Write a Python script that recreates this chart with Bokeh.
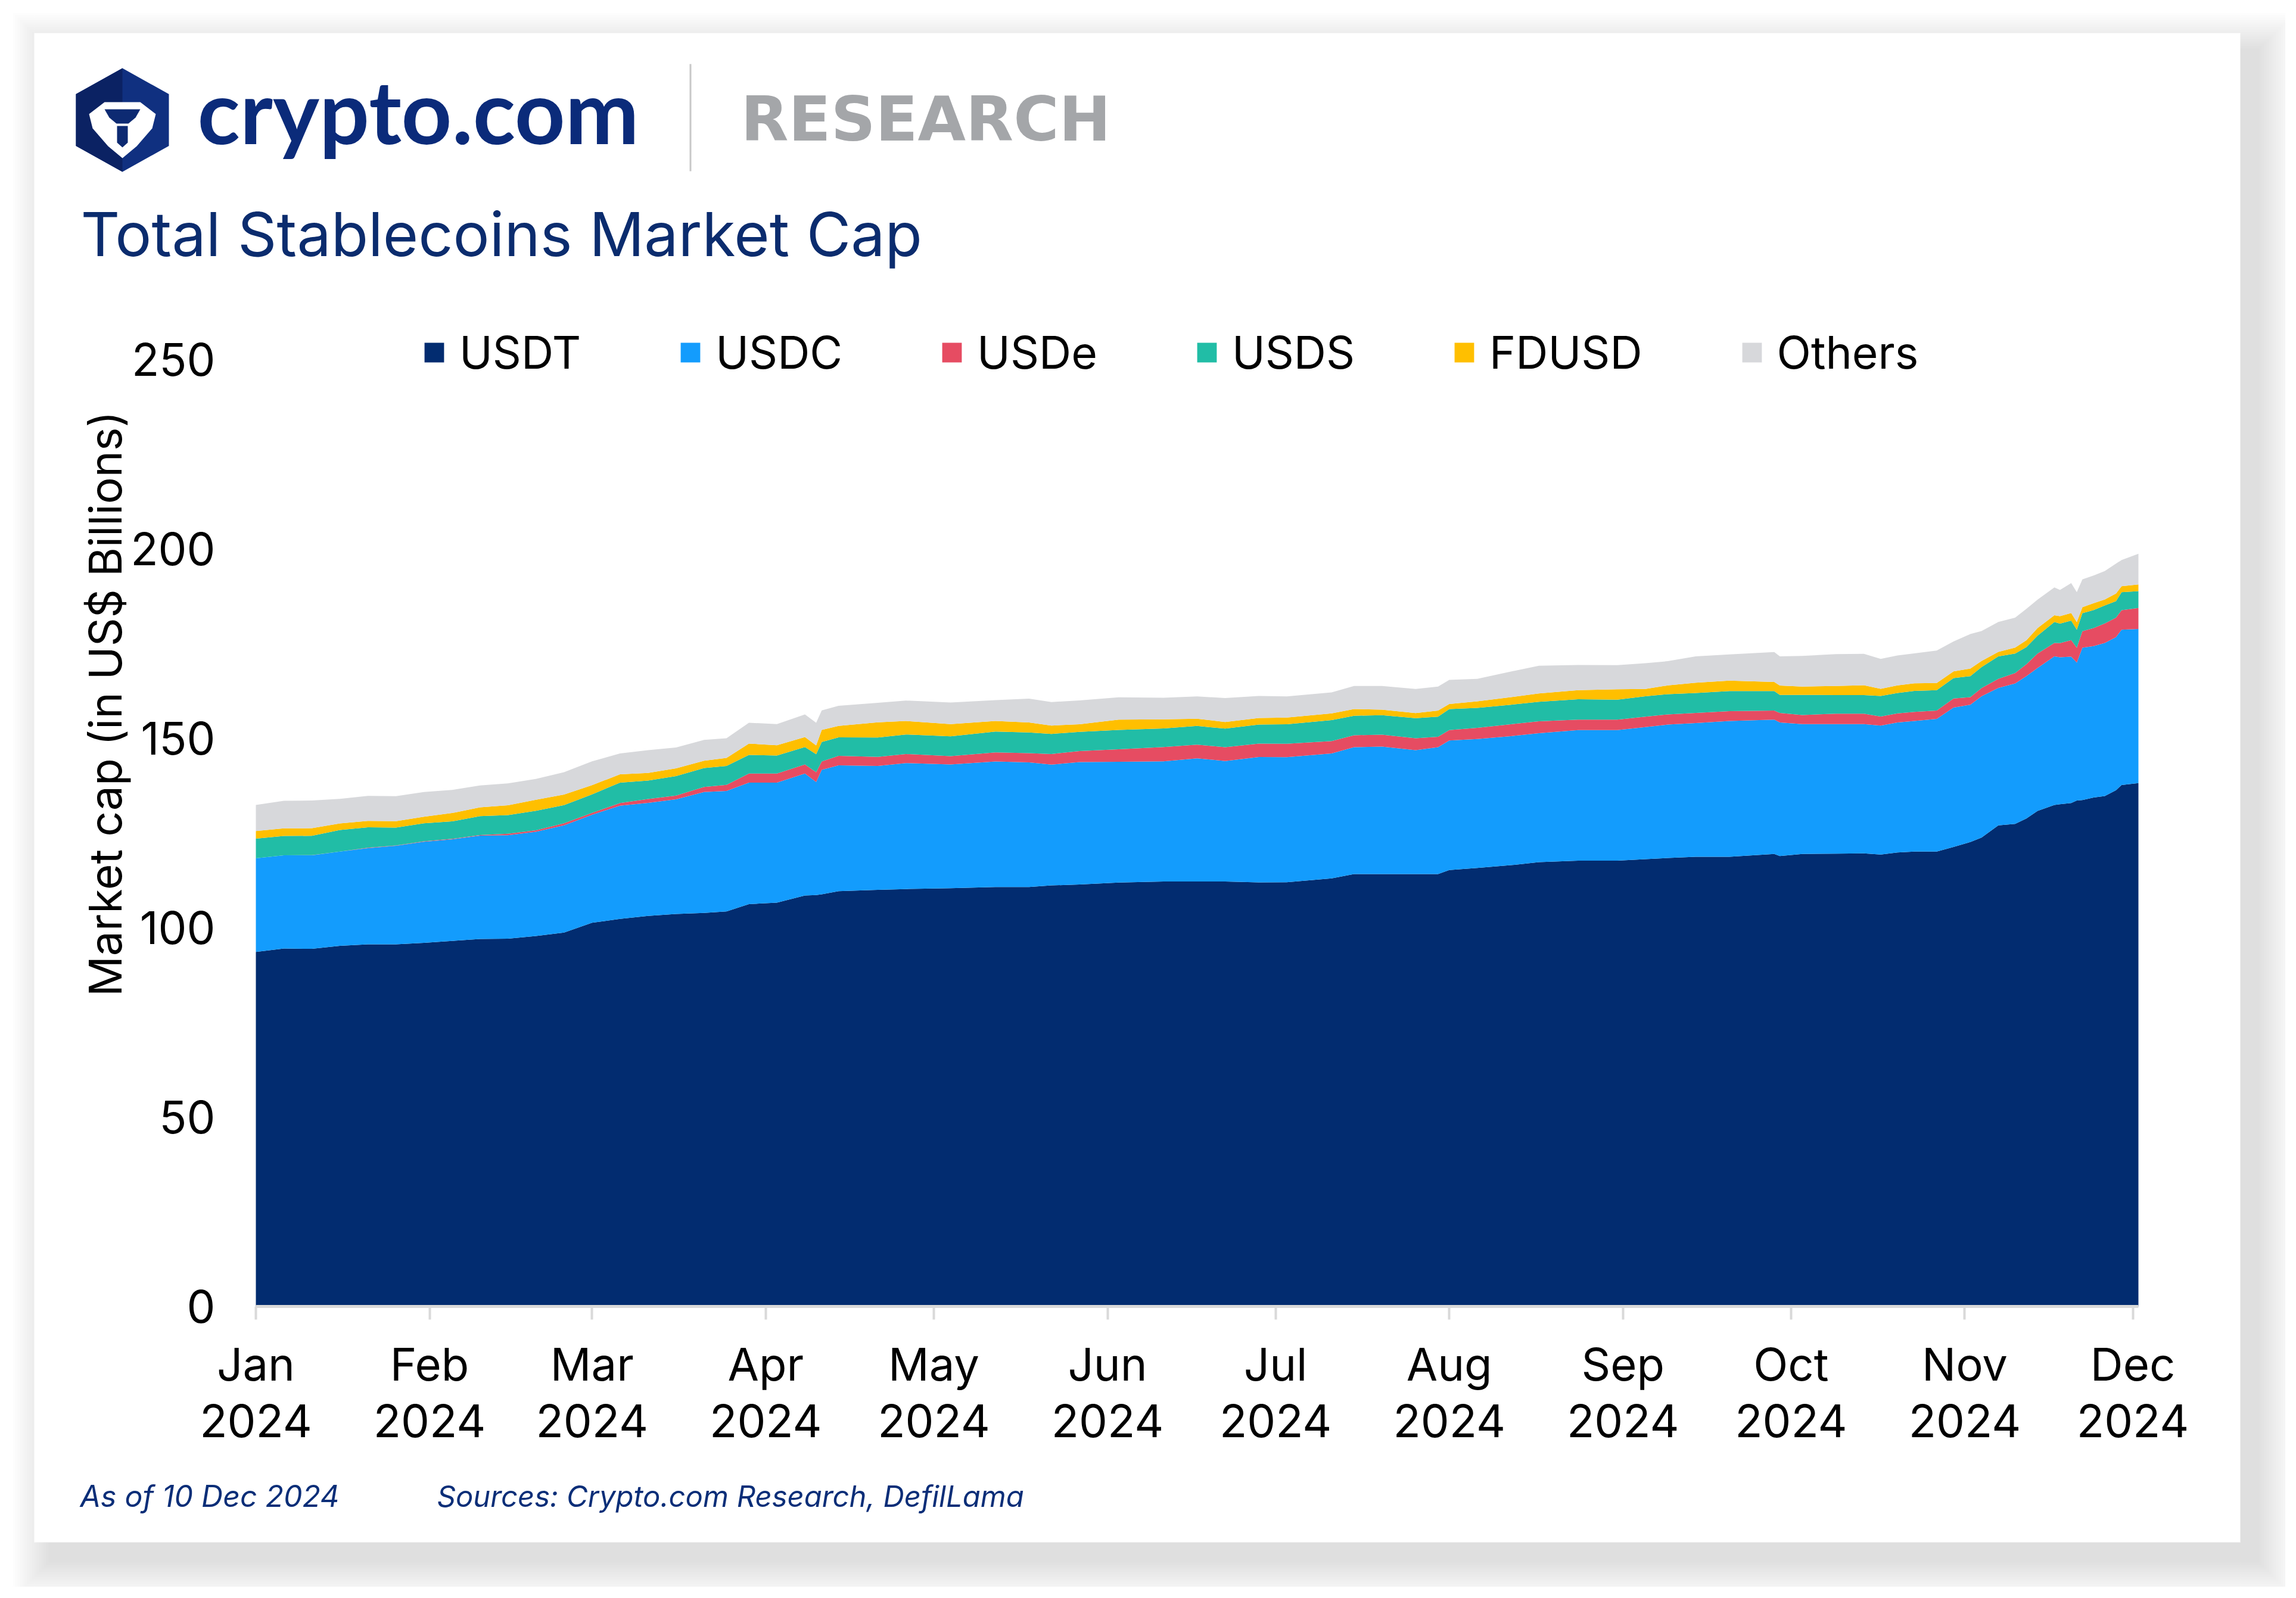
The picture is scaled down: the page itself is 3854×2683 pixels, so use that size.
import pandas as pd
from bokeh.plotting import figure
from bokeh.models import (ColumnDataSource, Label, BoxAnnotation, PolyAnnotation, FixedTicker,
                          CustomJSTickFormatter, Legend, Range1d)
from bokeh.embed import file_html
from bokeh.resources import INLINE

# ---------------- data (US$ billions) ----------------
dates = ["2024-01-01", "2024-01-06", "2024-01-11", "2024-01-16", "2024-01-21", "2024-01-26",
         "2024-01-31", "2024-02-05", "2024-02-10", "2024-02-15", "2024-02-20", "2024-02-25",
         "2024-03-01", "2024-03-06", "2024-03-11", "2024-03-16", "2024-03-21", "2024-03-25",
         "2024-03-29", "2024-04-03", "2024-04-08", "2024-04-10", "2024-04-11", "2024-04-14",
         "2024-04-21", "2024-04-26", "2024-05-04", "2024-05-12", "2024-05-18", "2024-05-22",
         "2024-05-27", "2024-06-03", "2024-06-11", "2024-06-17", "2024-06-22", "2024-06-28",
         "2024-07-03", "2024-07-11", "2024-07-15", "2024-07-20", "2024-07-26", "2024-07-30",
         "2024-08-01", "2024-08-06", "2024-08-12", "2024-08-17", "2024-08-24", "2024-08-31",
         "2024-09-05", "2024-09-09", "2024-09-14", "2024-09-20", "2024-09-28", "2024-09-29",
         "2024-10-03", "2024-10-09", "2024-10-14", "2024-10-17", "2024-10-20", "2024-10-23",
         "2024-10-27", "2024-10-30", "2024-11-02", "2024-11-04", "2024-11-07", "2024-11-10",
         "2024-11-12", "2024-11-14", "2024-11-17", "2024-11-18", "2024-11-20", "2024-11-21",
         "2024-11-22", "2024-11-24", "2024-11-26", "2024-11-28", "2024-11-29", "2024-12-02"]

usdt = [93.6, 94.5, 94.4, 95.2, 95.6, 95.6, 96.0, 96.5, 97.0, 97.1, 97.8, 98.7,
        101.3, 102.3, 103.1, 103.6, 103.9, 104.3, 106.2, 106.6, 108.5, 108.6, 108.8, 109.65,
        110.0, 110.2, 110.4, 110.75, 110.75, 111.15, 111.4, 111.9, 112.2, 112.2, 112.2, 111.95,
        112.0, 113.0, 114.15, 114.15, 114.15, 114.15, 115.2, 115.75, 116.5, 117.3, 117.7, 117.7,
        118.1, 118.4, 118.7, 118.7, 119.45, 118.9, 119.45, 119.55, 119.6, 119.3, 119.85, 120.1,
        120.1, 121.3, 122.6, 123.8, 127.0, 127.4, 128.8, 130.8, 132.4, 132.6, 132.9, 133.55,
        133.7, 134.35, 134.75, 136.3, 137.65, 138.15]

usdc = [24.7, 24.6, 24.7, 24.9, 25.4, 26.0, 26.7, 26.8, 27.3, 27.3, 27.5, 28.3,
        28.5, 29.9, 29.85, 30.3, 31.9, 31.8, 32.1, 31.7, 32.2, 29.85, 32.85, 33.2,
        32.7, 33.25, 32.7, 33.1, 32.9, 31.9, 32.3, 31.9, 31.7, 32.5, 31.8, 33.1,
        33.0, 33.0, 33.5, 33.65, 32.7, 33.5, 34.2, 34.05, 34.05, 34.05, 34.45, 34.45,
        34.85, 35.2, 35.3, 35.85, 35.45, 35.25, 34.3, 34.2, 34.15, 34.05, 34.3, 34.45,
        35.0, 36.8, 36.25, 37.3, 36.3, 37.05, 37.6, 37.75, 39.2, 38.8, 38.65, 36.4,
        40.2, 40.0, 40.4, 40.4, 41.0, 40.7]

usde = [0.0, 0.0, 0.05, 0.0, 0.1, 0.1, 0.1, 0.15, 0.15, 0.4, 0.4, 0.55,
        0.5, 0.7, 1.0, 0.95, 1.35, 1.6, 2.4, 2.4, 2.4, 2.6, 2.2, 2.5,
        2.4, 2.4, 2.2, 2.4, 2.4, 2.8, 2.9, 3.3, 3.8, 3.6, 3.65, 3.55,
        3.55, 3.25, 3.15, 3.15, 3.15, 2.75, 2.75, 2.95, 3.15, 3.15, 2.75, 2.75,
        2.75, 2.7, 2.7, 2.6, 2.4, 2.55, 2.4, 2.75, 2.75, 2.4, 2.4, 2.4,
        2.2, 2.4, 2.0, 2.15, 2.4, 2.75, 3.15, 3.8, 3.55, 3.7, 4.35, 3.95,
        4.35, 4.75, 5.15, 5.15, 5.15, 5.55]

usds = [5.2, 5.1, 5.1, 5.7, 5.4, 4.7, 4.75, 4.6, 5.0, 4.9, 5.15, 4.8,
        4.9, 5.4, 4.9, 5.15, 5.0, 5.0, 4.9, 4.75, 4.6, 4.75, 5.15, 4.9,
        5.1, 5.15, 5.2, 5.5, 5.5, 5.3, 5.1, 5.1, 4.9, 4.95, 4.9, 5.0,
        5.15, 5.55, 5.15, 5.15, 5.3, 5.3, 5.55, 5.25, 5.15, 5.15, 5.4, 5.3,
        5.4, 5.35, 5.25, 5.3, 5.15, 4.75, 5.3, 4.9, 4.9, 5.4, 5.4, 5.55,
        5.4, 5.4, 5.55, 5.55, 5.9, 5.15, 4.5, 4.75, 5.55, 5.15, 5.15, 4.75,
        4.75, 4.75, 4.75, 4.35, 4.75, 4.45]

fdusd = [2.0, 2.0, 2.0, 1.7, 1.7, 1.7, 1.75, 2.2, 2.3, 2.6, 2.9, 2.8,
         2.4, 2.2, 2.0, 2.05, 1.9, 2.1, 3.0, 2.7, 2.6, 2.3, 3.2, 3.0,
         4.0, 3.55, 3.25, 2.8, 2.6, 2.2, 2.0, 2.7, 2.4, 1.9, 1.75, 1.75,
         1.75, 1.75, 1.75, 1.45, 1.35, 1.6, 1.35, 1.75, 2.0, 2.2, 2.4, 2.75,
         1.9, 2.3, 2.7, 2.75, 2.4, 2.45, 2.2, 2.4, 2.6, 1.9, 2.0, 2.0,
         1.9, 1.75, 2.0, 1.6, 1.2, 1.6, 1.8, 2.0, 1.75, 2.0, 2.0, 2.0,
         1.6, 1.8, 1.6, 2.0, 1.6, 1.75]

others = [6.9, 7.3, 7.3, 6.5, 6.6, 6.6, 6.5, 6.1, 5.8, 5.8, 5.5, 5.9,
          6.3, 5.5, 6.0, 5.5, 5.5, 5.2, 5.5, 5.6, 6.0, 6.0, 5.15, 5.3,
          5.15, 5.4, 5.7, 5.5, 6.3, 6.2, 6.3, 5.9, 5.7, 5.9, 6.3, 5.8,
          5.6, 5.55, 6.1, 6.25, 6.35, 6.35, 6.35, 5.95, 6.75, 7.3, 6.65, 6.35,
          6.8, 6.4, 6.95, 6.95, 7.9, 7.7, 8.1, 8.4, 8.3, 7.9, 7.9, 7.9,
          8.55, 7.9, 9.1, 7.9, 7.9, 7.9, 8.3, 7.5, 7.35, 6.9, 7.9, 7.9,
          7.35, 7.3, 7.5, 7.9, 6.9, 8.1]

series = ["USDT", "USDC", "USDe", "USDS", "FDUSD", "Others"]
colors = ["#022c70", "#139cfd", "#e64c62", "#21bda6", "#ffbf00", "#d7d8db"]
month_ticks = ["2024-01-01", "2024-02-01", "2024-03-01", "2024-04-01", "2024-05-01", "2024-06-01",
               "2024-07-01", "2024-08-01", "2024-09-01", "2024-10-01", "2024-11-01", "2024-12-01"]
y_ticks = [0, 50, 100, 150, 200, 250]

df = pd.DataFrame({"date": pd.to_datetime(dates), "USDT": usdt, "USDC": usdc, "USDe": usde,
                   "USDS": usds, "FDUSD": fdusd, "Others": others})
source = ColumnDataSource(df)

# ---------------- layout constants (page pixels) ----------------
W, H = 3836, 2664              # canvas size
PL, PT = 0, 0                  # canvas origin on the captured page
CHART_L, CHART_R = 429, 3589   # chart area left/right (page px)
CHART_B, CHART_T = 2193, 603   # y=0 and y=250 (page px)
t0 = pd.Timestamp(dates[0]).value / 1e6
t_end = pd.Timestamp(dates[-1]).value / 1e6
px_per_ms = (CHART_R - CHART_L) / (t_end - t0)
px_per_unit = (CHART_B - CHART_T) / 250.0

x_range = Range1d(t0 - (CHART_L - PL) / px_per_ms, t0 + (PL + W - CHART_L) / px_per_ms)
y_range = Range1d(-(PT + H - CHART_B) / px_per_unit, (CHART_B - PT) / px_per_unit)

p = figure(width=W, height=H, x_axis_type="datetime", output_backend="svg", toolbar_location=None,
           x_range=x_range, y_range=y_range, min_border=0)
p.outline_line_color = None
p.background_fill_color = "white"
p.border_fill_color = "white"
p.xgrid.visible = False
p.ygrid.visible = False

renderers = p.varea_stack(stackers=series, x="date", color=colors, source=source)

FONT = "Inter"
# x axis, fixed at y = 0
xa = p.xaxis[0]
xa.fixed_location = 0
xa.bounds = (t0, t_end)
xa.ticker = FixedTicker(ticks=[pd.Timestamp(t).value / 1e6 for t in month_ticks])
xa.formatter = CustomJSTickFormatter(code="""
const m = ["Jan","Feb","Mar","Apr","May","Jun","Jul","Aug","Sep","Oct","Nov","Dec"];
const d = new Date(tick);
return m[d.getUTCMonth()] + "\\n" + d.getUTCFullYear();
""")
xa.axis_line_color = "#d9d9d9"
xa.axis_line_width = 5
xa.major_tick_line_color = "#d9d9d9"
xa.major_tick_line_width = 4
xa.major_tick_out = 22
xa.major_tick_in = 0
xa.minor_tick_line_color = None
xa.major_label_text_font = FONT
xa.major_label_text_font_size = "76px"
xa.major_label_text_color = "#000000"
xa.major_label_text_line_height = 1.04
xa.major_label_standoff = 28

# y axis, fixed at the first date
ya = p.yaxis[0]
ya.fixed_location = t0
ya.bounds = (0, 250)
ya.ticker = FixedTicker(ticks=y_ticks)
ya.axis_line_color = None
ya.major_tick_line_color = None
ya.major_tick_out = 0
ya.major_tick_in = 0
ya.minor_tick_line_color = None
ya.major_label_text_font = FONT
ya.major_label_text_font_size = "76px"
ya.major_label_text_color = "#000000"
ya.major_label_standoff = 68

# ---------------- helpers (page px -> frame screen coords, y up) ----------------
def sx(X):
    return X - PL
def sy(Y):
    return PT + H - Y

# legend
legend = Legend(items=[(s, [r]) for s, r in zip(series, renderers)], orientation="horizontal",
                location=(sx(708), sy(637)), glyph_width=41, glyph_height=41, label_standoff=22,
                spacing=163, padding=0, margin=0, border_line_color=None,
                background_fill_alpha=0, label_text_font=FONT, label_text_font_size="75px",
                label_text_color="#000000")
p.add_layout(legend, "center")

# card shadow (outside the white card only)
cl, cr, ct, cb = sx(57), sx(3760), sy(55), sy(2589)
ox, oy = 28, -30
for k in range(1, 17):
    e = 4 * k
    L, R, T, B = cl + ox - e, cr + ox + e, ct + oy + e, cb + oy - e
    parts = [(cr, R, T, B)]
    if L < cl:
        parts.append((L, cl, T, B))
    if B < cb:
        parts.append((max(L, cl), min(R, cr), cb, B))
    if T > ct:
        parts.append((max(L, cl), min(R, cr), T, ct))
    for (l, r, t, b) in parts:
        p.add_layout(BoxAnnotation(left=l, right=r, top=t, bottom=b,
                                   left_units="screen", right_units="screen",
                                   top_units="screen", bottom_units="screen",
                                   fill_color="black", fill_alpha=0.007, line_color=None))

# logo hexagon
hcx, hcy = sx(205), sy(201)
def poly(xs, ys, color):
    p.add_layout(PolyAnnotation(xs=[float(hcx + a) for a in xs], ys=[float(hcy + b) for b in ys],
                                xs_units="screen", ys_units="screen",
                                fill_color=color, fill_alpha=1, line_color=None))
poly([0, 78, 78, 0, -78, -78], [87, 43.5, -43.5, -87, -43.5, 43.5], "#103080")
poly([0, 0, -78, -78], [87, -87, -43.5, 43.5], "#0b2263")
poly([-56, -30, 30, 56, 50, 24, 0, -24, -50], [10, 30, 30, 10, -14, -44, -64, -44, -14], "white")
poly([-30, 30, 22, 10, -10, -22], [18, 18, 4, -6, -6, 4], "#0d2a72")
poly([-9, 9, 9, 0, -9], [-10, -10, -38, -46, -38], "#0d2a72")

# divider
p.add_layout(BoxAnnotation(left=sx(1157), right=sx(1160), top=sy(107), bottom=sy(287),
                           left_units="screen", right_units="screen",
                           top_units="screen", bottom_units="screen",
                           fill_color="#c8c8c8", fill_alpha=1, line_color=None))

def add_text(txt, X, Y, size, color, font=FONT, style="normal", align="left",
             baseline="alphabetic", angle=0.0, k=0.0):
    # k: empirical correction (fraction of the font size) for where the baseline lands
    # (sizes like 100/200px are avoided: the SVG font parser reads them as a weight)
    p.add_layout(Label(x=float(sx(X)), y=float(sy(Y - k * size)), x_units="screen", y_units="screen",
                       text=txt, text_font=font, text_font_size="%dpx" % size,
                       text_font_style=style, text_color=color, text_align=align,
                       text_baseline=baseline, angle=angle))

add_text("crypto.com", 331, 236, 148, "#0b2b7a", font="Lato", style="bold", k=0.35)
add_text("RESEARCH", 1243, 239, 104, "#a4a6a9", font="DejaVu Sans", style="bold", k=0.38)
add_text("Total Stablecoins Market Cap", 135, 433, 102, "#0b2c6e", k=0.40)
add_text("Market cap (in US$ Billions)", 176, 1181, 75, "#000000",
         align="center", baseline="middle", angle=1.5707963)
add_text("As of 10 Dec 2024", 134, 2531, 50, "#0b2e78", style="italic", k=0.39)
add_text("Sources: Crypto.com Research, DefilLama", 733, 2531, 49, "#0b2e78", style="italic", k=0.39)

open("out.html", "w").write(file_html(p, INLINE))
